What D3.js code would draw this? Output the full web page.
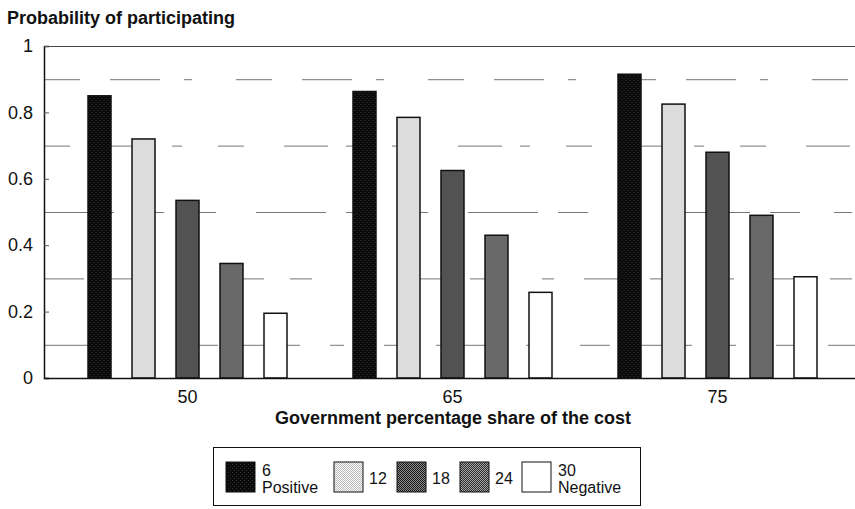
<!DOCTYPE html>
<html>
<head>
<meta charset="utf-8">
<script src="https://cdn.jsdelivr.net/npm/d3@7"></script>
<style>
  body { margin: 0; background: #fff; }
  text { font-family: "Liberation Sans", Arial, sans-serif; fill: #111; }
</style>
</head>
<body>
<div id="chart"></div>
<script>
// data
var shares = ["50", "65", "75"];
var costs = ["6", "12", "18", "24", "30"];
var probs = [
  [0.85, 0.72, 0.535, 0.345, 0.195],   // 50
  [0.863, 0.785, 0.625, 0.43, 0.258],  // 65
  [0.915, 0.825, 0.68, 0.49, 0.305]    // 75
];
var yTicks = [0, 0.2, 0.4, 0.6, 0.8, 1];
var gridVals = [0.1, 0.3, 0.5, 0.7, 0.9];
var legendLabels = [["6", "Positive"], ["12"], ["18"], ["24"], ["30", "Negative"]];

var svgWidth = 855, svgHeight = 509;
var margin = { top: 46, right: 0, bottom: 131, left: 44 };
var height = svgHeight - margin.top - margin.bottom;

var svg = d3.select("#chart").append("svg")
  .attr("width", svgWidth)
  .attr("height", svgHeight);

var defs = svg.append("defs");
// little dither patterns for the halftone look
function dither(id, base, dot, size) {
  var p = defs.append("pattern").attr("id", id)
    .attr("width", size).attr("height", size)
    .attr("patternUnits", "userSpaceOnUse");
  p.append("rect").attr("width", size).attr("height", size).attr("fill", base);
  p.append("rect").attr("width", 1).attr("height", 1).attr("fill", dot);
  p.append("rect").attr("x", size / 2).attr("y", size / 2).attr("width", 1).attr("height", 1).attr("fill", dot);
}
dither("p0", "#0a0a0a", "#333", 4);
dither("p1", "#fafafa", "#bdbdbd", 2);
dither("p2", "#1a1a1a", "#8a8a8a", 2);
dither("p3", "#2a2a2a", "#a8a8a8", 2);
dither("p4", "#ffffff", "#ffffff", 4);
var patterns = ["url(#p0)", "url(#p1)", "url(#p2)", "url(#p3)", "url(#p4)"];

var y = d3.scaleLinear().domain([0, 1]).range([margin.top + height, margin.top]);
var x0 = d3.scaleBand().domain(shares).range([55, 850]);
var x1 = d3.scalePoint().domain(costs).range([-88, 88]);
var barW = 23;

// broken gridlines at odd tenths
svg.append("g").selectAll("line")
  .data(gridVals)
  .enter().append("line")
  .attr("x1", margin.left).attr("x2", svgWidth)
  .attr("y1", d => y(d) + 0.5).attr("y2", d => y(d) + 0.5)
  .attr("stroke", "#777")
  .attr("stroke-width", 1)
  .attr("stroke-dasharray", (d, i) => ["60,30,14,40,30,22", "40,26,22,50,12,30", "70,20,30,34,18,40", "26,40,44,18,10,36", "36,30,50,24,8,44"][i]);

// top line
svg.append("line")
  .attr("x1", margin.left).attr("x2", svgWidth)
  .attr("y1", y(1) + 0.5).attr("y2", y(1) + 0.5)
  .attr("stroke", "#444");

// bars
var groups = svg.append("g").selectAll("g")
  .data(shares)
  .enter().append("g")
  .attr("transform", d => `translate(${x0(d) + x0.bandwidth() / 2},0)`);

groups.selectAll("rect")
  .data((d, i) => probs[i].map((v, j) => ({ cost: costs[j], v: v, j: j })))
  .enter().append("rect")
  .attr("x", d => x1(d.cost) - barW / 2)
  .attr("y", d => y(d.v))
  .attr("width", barW)
  .attr("height", d => y(0) - y(d.v))
  .attr("fill", d => patterns[d.j])
  .attr("stroke", "#111")
  .attr("stroke-width", 1.5);

// y axis
var leftAxis = d3.axisRight(y).tickValues(yTicks).tickSize(5)
  .tickFormat(d => d === 0 || d === 1 ? d3.format("d")(d) : d3.format(".1f")(d));
var yg = svg.append("g")
  .attr("transform", `translate(${margin.left},0)`)
  .call(leftAxis);
yg.select(".domain").attr("stroke", "#111").attr("stroke-width", 1.5);
yg.selectAll(".tick line").attr("stroke", "#555");
yg.selectAll(".tick text")
  .attr("x", -11).attr("text-anchor", "end")
  .style("font-size", "18px");

// x axis
svg.append("line")
  .attr("x1", margin.left).attr("x2", svgWidth)
  .attr("y1", y(0) + 0.5).attr("y2", y(0) + 0.5)
  .attr("stroke", "#111").attr("stroke-width", 1.5);
var bottomAxis = d3.axisBottom(x0).tickSize(0).tickPadding(12);
var xg = svg.append("g")
  .attr("transform", `translate(0,${y(0)})`)
  .call(bottomAxis);
xg.select(".domain").remove();
xg.selectAll(".tick text").style("font-size", "18px");

// titles
svg.append("text")
  .attr("x", 7).attr("y", 24)
  .style("font-size", "18px").style("font-weight", "bold")
  .text("Probability of participating");

svg.append("text")
  .attr("x", 453).attr("y", 424)
  .attr("text-anchor", "middle")
  .style("font-size", "18px").style("font-weight", "bold")
  .text("Government percentage share of the cost");

// legend
var legend = svg.append("g");
legend.append("rect")
  .attr("x", 213.5).attr("y", 447.5)
  .attr("width", 427).attr("height", 58)
  .attr("fill", "none").attr("stroke", "#111");

var legendX = [226, 334, 397, 460, 522];
var items = legend.selectAll("g.item")
  .data(costs)
  .enter().append("g")
  .attr("class", "item")
  .attr("transform", (d, i) => `translate(${legendX[i]},462)`);

items.append("rect")
  .attr("width", 29).attr("height", 30)
  .attr("fill", (d, i) => patterns[i])
  .attr("stroke", "#111");

items.each(function(d, i) {
  var lines = legendLabels[i];
  var t = d3.select(this).append("text")
    .style("font-size", "16px");
  if (lines.length === 1) {
    t.attr("x", 35).attr("y", 22).text(lines[0]);
  } else {
    t.append("tspan").attr("x", 36).attr("y", 14).text(lines[0]);
    t.append("tspan").attr("x", 36).attr("y", 31).text(lines[1]);
  }
});
</script>
</body>
</html>
